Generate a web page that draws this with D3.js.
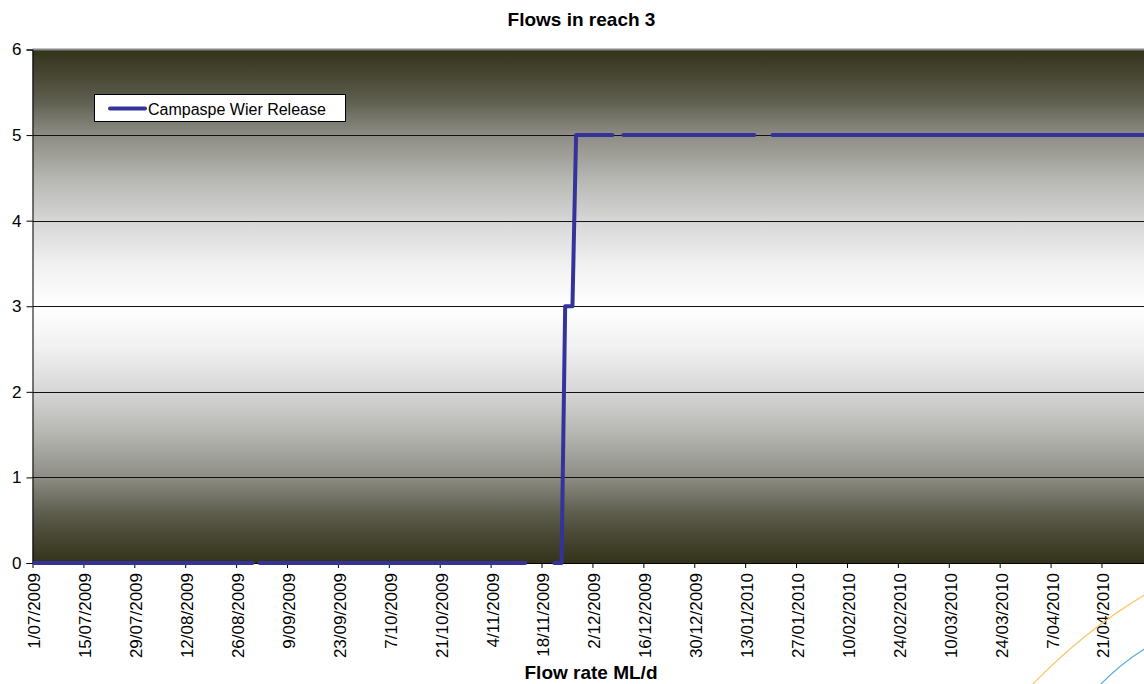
<!DOCTYPE html>
<html>
<head>
<meta charset="utf-8">
<script src="https://cdn.jsdelivr.net/npm/d3@7"></script>
<style>
  html, body { margin: 0; padding: 0; background: #fff; overflow: hidden; }
  svg { display: block; font-family: "Liberation Sans", Arial, sans-serif; }
</style>
</head>
<body>
<svg id="chart" width="1144" height="684"></svg>
<script>
// ---- data ----
const seriesName = "Campaspe Wier Release";
const pointDates = ["1/07/2009","30/08/2009","31/08/2009","1/09/2009","13/11/2009","14/11/2009",
  "21/11/2009","23/11/2009","24/11/2009","26/11/2009","27/11/2009","7/12/2009","8/12/2009",
  "10/12/2009","15/01/2010","16/01/2010","20/01/2010","30/06/2010"];
const pointValues = [0, 0, null, 0, 0, null,
  0, 0, 3, 3, 5, 5, null,
  5, 5, null, 5, 5];
const xTickLabels = ["1/07/2009","15/07/2009","29/07/2009","12/08/2009","26/08/2009","9/09/2009",
  "23/09/2009","7/10/2009","21/10/2009","4/11/2009","18/11/2009","2/12/2009","16/12/2009",
  "30/12/2009","13/01/2010","27/01/2010","10/02/2010","24/02/2010","10/03/2010","24/03/2010",
  "7/04/2010","21/04/2010"];
const yTicks = [0, 1, 2, 3, 4, 5, 6];
const titleText = "Flows in reach 3";
const xTitleText = "Flow rate ML/d";

// ---- layout ----
const parse = d3.utcParse("%d/%m/%Y");
const svg = d3.select("#chart");
const pLeft = 32.5, pTop = 49.5, pBottom = 563;
const pxPerDay = 3.636;
const start = parse("1/07/2009"), end = parse("1/07/2010");
const nDays = d3.utcDay.count(start, end);

const x = d3.scaleUtc().domain([start, end]).range([pLeft, pLeft + nDays * pxPerDay]);
const y = d3.scaleLinear().domain([0, 6]).range([pBottom, pTop]);
const pRight = 1144;

// gradient background
const defs = svg.append("defs");
const grad = defs.append("linearGradient").attr("id", "bg").attr("x1", 0).attr("y1", 0).attr("x2", 0).attr("y2", 1);
const stops = [[0, "#33321a"], [0.06, "#4c4b38"], [0.1, "#5f5f50"], [0.167, "#8d8d85"], [0.25, "#b5b5b1"],
  [0.333, "#d6d6d6"], [0.42, "#f1f1f1"], [0.5, "#ffffff"], [0.58, "#f1f1f1"], [0.667, "#d6d6d6"],
  [0.75, "#b5b5b1"], [0.833, "#8d8d85"], [0.9, "#5f5f50"], [0.94, "#4c4b38"], [1, "#33321a"]];
stops.forEach(s => grad.append("stop").attr("offset", s[0]).attr("stop-color", s[1]));

svg.append("rect").attr("x", pLeft).attr("y", pTop).attr("width", pRight - pLeft + 5)
  .attr("height", pBottom - pTop).attr("fill", "url(#bg)");

// gridlines
svg.append("g").selectAll("line").data(yTicks.filter(v => v > 0 && v < 6)).join("line")
  .attr("x1", pLeft).attr("x2", pRight + 5)
  .attr("y1", d => Math.round(y(d)) + 0.5).attr("y2", d => Math.round(y(d)) + 0.5)
  .attr("stroke", "#111").attr("stroke-width", 1);
// top border
svg.append("line").attr("x1", pLeft).attr("x2", pRight + 5).attr("y1", pTop).attr("y2", pTop)
  .attr("stroke", "#888").attr("stroke-width", 2);

// y axis
const yAxis = d3.axisLeft(y).tickValues(yTicks).tickSize(6).tickPadding(5).tickFormat(d3.format("d"));
const gy = svg.append("g").attr("transform", `translate(${pLeft},0)`).call(yAxis);
gy.select(".domain").attr("stroke", "#000");
gy.selectAll(".tick line").attr("stroke", "#000");
gy.selectAll("text").attr("font-size", 17).attr("fill", "#000").attr("font-family", "Liberation Sans, Arial, sans-serif");

// x axis
const xTickDates = xTickLabels.map(parse);
const xAxis = d3.axisBottom(x).tickValues(xTickDates).tickSize(5).tickFormat((d, i) => xTickLabels[i]);
const gx = svg.append("g").attr("transform", `translate(0,${pBottom})`).call(xAxis);
gx.select(".domain").attr("stroke", "#000").attr("d", `M${pLeft},0.5H${pRight + 5}`);
gx.selectAll(".tick line").attr("stroke", "#000");
gx.selectAll("text")
  .attr("font-size", 17).attr("fill", "#000").attr("font-family", "Liberation Sans, Arial, sans-serif")
  .attr("text-anchor", "end").attr("transform", "rotate(-90)")
  .attr("x", -10).attr("y", 1.5).attr("dy", "0.35em");

// series line (points centred in each day's category)
const data = pointDates.map((d, i) => ({ date: parse(d), value: pointValues[i] }));
const line = d3.line()
  .defined(d => d.value !== null)
  .x(d => x(d3.utcHour.offset(d.date, 12)))
  .y(d => y(d.value));
defs.append("clipPath").attr("id", "clip").append("rect")
  .attr("x", pLeft - 3).attr("y", pTop - 5).attr("width", pRight - pLeft + 10).attr("height", pBottom - pTop + 10);
svg.append("path").datum(data).attr("d", line).attr("clip-path", "url(#clip)")
  .attr("fill", "none").attr("stroke", "#333399").attr("stroke-width", 4)
  .attr("stroke-linecap", "round").attr("stroke-linejoin", "round");

// legend
const lg = svg.append("g");
lg.append("rect").attr("x", 94.5).attr("y", 94.5).attr("width", 251).attr("height", 27)
  .attr("fill", "#fff").attr("stroke", "#000").attr("stroke-width", 1);
lg.append("line").attr("x1", 110).attr("x2", 145).attr("y1", 108.5).attr("y2", 108.5)
  .attr("stroke", "#333399").attr("stroke-width", 4).attr("stroke-linecap", "round");
lg.append("text").attr("x", 148).attr("y", 114.5).attr("font-size", 16).attr("fill", "#000").text(seriesName);

// titles
svg.append("text").attr("x", 581.5).attr("y", 26).attr("text-anchor", "middle")
  .attr("font-size", 19).attr("font-weight", "bold").attr("fill", "#000").text(titleText);
svg.append("text").attr("x", 591).attr("y", 679).attr("text-anchor", "middle")
  .attr("font-size", 19).attr("font-weight", "bold").attr("fill", "#000").text(xTitleText);

// decorative page curves (bottom-right)
svg.append("path").attr("d", "M1031,686 Q1085,630 1146,594").attr("fill", "none")
  .attr("stroke", "#f9c66a").attr("stroke-width", 1.2);
svg.append("path").attr("d", "M1099,686 Q1120,664 1146,648").attr("fill", "none")
  .attr("stroke", "#5aaee0").attr("stroke-width", 1.2);
</script>
</body>
</html>
